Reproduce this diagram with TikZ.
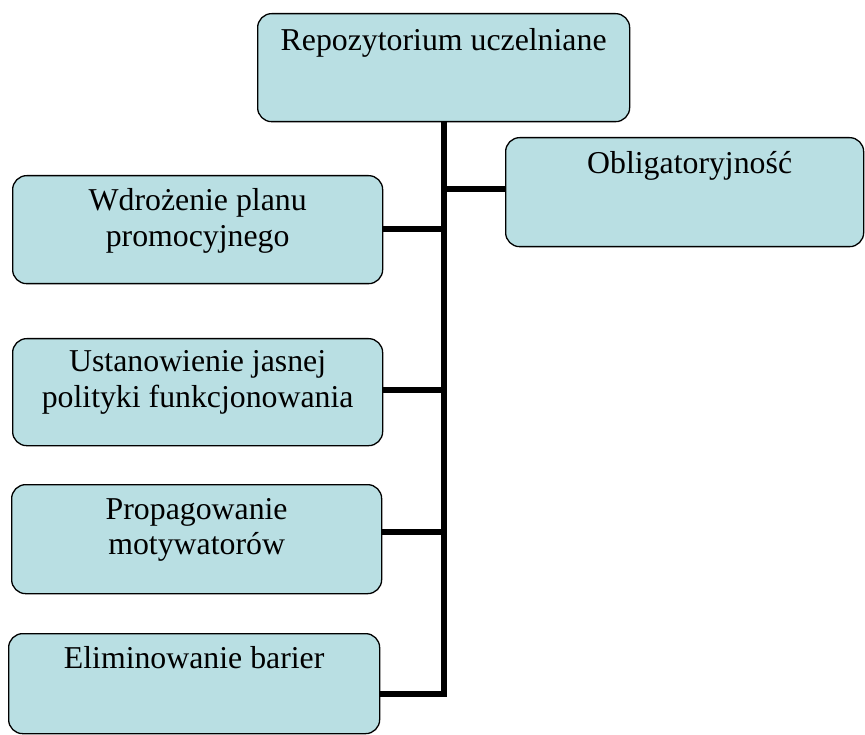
\documentclass[tikz,border=0pt]{standalone}
\usepackage{fontspec}
\setmainfont{Liberation Serif}
\definecolor{boxfill}{HTML}{B9DFE3}
\begin{document}
\begin{tikzpicture}[x=1pt,y=-1pt,
  box/.style={draw=black, line width=1.3pt, fill=boxfill, rounded corners=14pt, inner sep=0, anchor=north west},
  lbl/.style={font=\fontsize{31.8}{35.5}\selectfont, align=center, anchor=north, inner sep=0},
  conn/.style={line width=6pt, line join=miter}]
\useasboundingbox (0,0) rectangle (865,735);
% boxes
\node[box, minimum width=372pt, minimum height=108pt] (top) at (257,13) {};
\node[box, minimum width=358pt, minimum height=109pt] (obl) at (505,137) {};
\node[box, minimum width=370pt, minimum height=108pt] (wdr) at (12,175) {};
\node[box, minimum width=370pt, minimum height=107pt] (ust) at (12,338) {};
\node[box, minimum width=370pt, minimum height=109pt] (pro) at (11,484) {};
\node[box, minimum width=371pt, minimum height=100pt] (eli) at (8,633) {};
% labels
\node[lbl] (toplbl) at ([yshift=-15pt]top.north) {Repozytorium uczelniane};
\node[lbl] (obllbl) at ([xshift=5pt,yshift=-14pt]obl.north) {Obligatoryjność};
\node[lbl] (wdrlbl) at ([yshift=-13.5pt]wdr.north) {Wdrożenie planu\\promocyjnego};
\node[lbl] (ustlbl) at ([yshift=-12.5pt]ust.north) {Ustanowienie jasnej\\polityki funkcjonowania};
\node[lbl] (prolbl) at ([yshift=-14pt]pro.north) {Propagowanie\\motywatorów};
\node[lbl] (elilbl) at ([yshift=-13.5pt]eli.north) {Eliminowanie barier};
% connectors
\coordinate (jo) at (443.5,189);
\coordinate (jw) at (443.5,229.5);
\coordinate (ju) at (443.5,390);
\coordinate (jp) at (443.5,532);
\coordinate (je) at (443.5,694);
\draw[conn] (top.south -| je) -- (je) -- (eli.east |- je);
\draw[conn] (jo) -- (obl.west |- jo);
\draw[conn] (jw) -- (wdr.east |- jw);
\draw[conn] (ju) -- (ust.east |- ju);
\draw[conn] (jp) -- (pro.east |- jp);
\end{tikzpicture}
\end{document}
